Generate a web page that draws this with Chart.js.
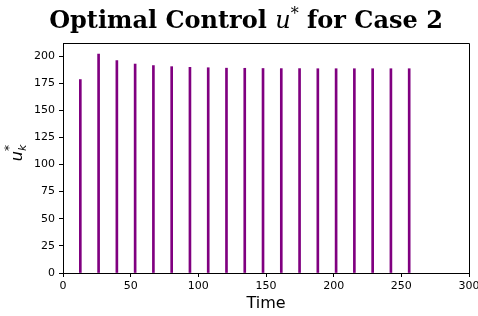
<!DOCTYPE html>
<html>
<head>
<meta charset="utf-8">
<script src="https://cdn.jsdelivr.net/npm/chart.js@4.4.0/dist/chart.umd.min.js"></script>
<style>
  html, body { margin: 0; padding: 0; background: #fff; }
  #wrap { width: 478px; height: 316px; }
</style>
</head>
<body>
<div id="wrap"><canvas id="chart"></canvas></div>
<script>
// sample times and optimal control values
var times = [12.8, 26.3, 39.8, 53.3, 66.8, 80.3, 93.8, 107.3, 120.8, 134.3,
             147.8, 161.3, 174.8, 188.3, 201.8, 215.3, 228.8, 242.3, 255.8];
var uValues = [178.3, 201.8, 195.8, 192.6, 191.2, 190.2, 189.6, 189.2, 188.8, 188.7,
               188.5, 188.4, 188.4, 188.3, 188.3, 188.3, 188.3, 188.3, 188.3];
var xTickStep = 50;
var yTickStep = 25;

var titleParts = [
  { text: 'Optimal Control ', font: 'bold 24px "DejaVu Serif"', dy: 0 },
  { text: 'u', font: 'italic 24px "DejaVu Serif"', dy: 0 },
  { text: '*', font: '16px "DejaVu Serif"', dy: -9 },
  { text: ' for Case 2', font: 'bold 24px "DejaVu Serif"', dy: 0 }
];

var labelsPlugin = {
  id: 'labels',
  afterDraw: function(chart) {
    var ctx = chart.ctx;
    var area = chart.chartArea;
    ctx.save();
    ctx.fillStyle = '#000';
    ctx.textBaseline = 'alphabetic';
    ctx.textAlign = 'left';

    // title with mixed fonts
    var total = 0;
    titleParts.forEach(function(p) { ctx.font = p.font; total += ctx.measureText(p.text).width; });
    var x = 246 - total / 2;
    titleParts.forEach(function(p) {
      ctx.font = p.font;
      ctx.fillText(p.text, x, 28 + p.dy);
      x += ctx.measureText(p.text).width;
    });

    // x axis label
    ctx.font = '16px "DejaVu Sans"';
    ctx.textAlign = 'center';
    ctx.fillText('Time', (area.left + area.right) / 2, 308);

    // y axis label u_k^*
    ctx.translate(22, 153);
    ctx.rotate(-Math.PI / 2);
    ctx.textAlign = 'left';
    ctx.font = 'italic 16px "DejaVu Sans"';
    var wu = ctx.measureText('u').width;
    ctx.font = 'italic 11px "DejaVu Sans"';
    var wk = ctx.measureText('k').width;
    var start = -(wu + wk) / 2;
    ctx.font = 'italic 16px "DejaVu Sans"';
    ctx.fillText('u', start, 0);
    ctx.font = 'italic 11px "DejaVu Sans"';
    ctx.fillText('k', start + wu, 4);
    ctx.font = '12px "DejaVu Sans"';
    ctx.fillText('*', start + wu, -9);
    ctx.restore();
  }
};

new Chart(document.getElementById('chart'), {
  type: 'bar',
  data: {
    datasets: [{
      data: times.map(function(t, i) { return { x: t, y: uValues[i] }; }),
      backgroundColor: '#800080',
      borderWidth: 0,
      barThickness: 2,
      grouped: false
    }]
  },
  options: {
    responsive: true,
    maintainAspectRatio: false,
    animation: false,
    devicePixelRatio: 1,
    layout: { padding: { top: 43, right: 9, left: 0, bottom: 0 } },
    plugins: { legend: { display: false }, tooltip: { enabled: false }, title: { display: false } },
    scales: {
      x: {
        type: 'linear',
        min: 0,
        max: 300,
        offset: false,
        afterFit: function(scale) { scale.height = 43; scale.paddingLeft = 0; scale.paddingRight = 0; },
        grid: { offset: false, drawOnChartArea: false, tickLength: 4, color: '#000', tickColor: '#000' },
        border: { color: '#000', width: 1 },
        ticks: { stepSize: xTickStep, color: '#000', padding: 3, maxRotation: 0, autoSkip: false, font: { family: 'DejaVu Sans', size: 11 } }
      },
      y: {
        min: 0,
        max: 212,
        afterFit: function(scale) { scale.width = 63; },
        grid: { drawOnChartArea: false, tickLength: 4, color: '#000', tickColor: '#000' },
        border: { color: '#000', width: 1 },
        ticks: { stepSize: yTickStep, includeBounds: false, color: '#000', padding: 4, autoSkip: false, font: { family: 'DejaVu Sans', size: 11 } }
      }
    }
  },
  plugins: [labelsPlugin, {
    id: 'frame',
    afterDraw: function(chart) {
      var a = chart.chartArea, ctx = chart.ctx;
      ctx.save();
      ctx.strokeStyle = '#000';
      ctx.lineWidth = 1;
      ctx.beginPath();
      ctx.moveTo(a.left, a.top + 0.5);
      ctx.lineTo(a.right + 0.5, a.top + 0.5);
      ctx.lineTo(a.right + 0.5, a.bottom);
      ctx.stroke();
      ctx.restore();
    }
  }]
});
</script>
</body>
</html>
